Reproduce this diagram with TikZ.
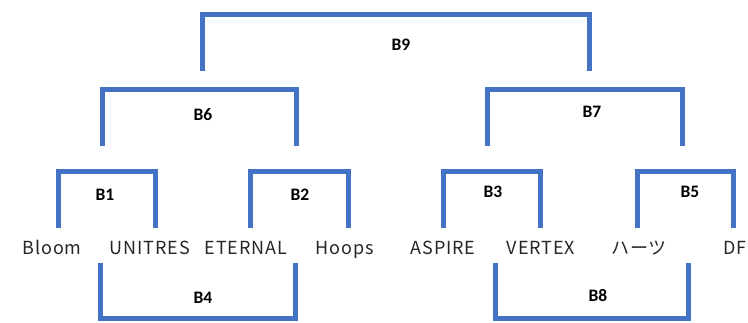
\documentclass[tikz,border=0pt]{standalone}
\usepackage{fontspec}
\setmainfont{Noto Sans CJK JP}
\newfontfamily\labelfont{Carlito}
\usetikzlibrary{positioning, calc}
\definecolor{barblue}{HTML}{4472C4}
\definecolor{namegray}{HTML}{262626}
\tikzset{
  bar/.style={draw=barblue, line width=5pt},
  team/.style={anchor=base, inner sep=0pt, text=namegray, font=\fontsize{18}{20}\selectfont\addfontfeatures{LetterSpace=5}},
  blabel/.style={inner sep=0pt, font=\labelfont\bfseries\fontsize{17.5}{20}\selectfont}
}
\begin{document}
\begin{tikzpicture}[x=1pt, y=-1pt]
\useasboundingbox (0,0) rectangle (748,323);
% teams
\node[team] (bloom) at (52,255) {Bloom};
\node[team] (unitres) at (150,255) {UNITRES};
\node[team] (eternal) at (246,255) {ETERNAL};
\node[team] (hoops) at (345,255) {Hoops};
\node[team] (aspire) at (443,255) {ASPIRE};
\node[team] (vertex) at (541,255) {VERTEX};
\node[team] (hearts) at (639,255) {ハーツ};
\node[team, anchor=base west] (df) at (723,255) {DF};
% leg ends
\coordinate (b1a) at (58,228);  \coordinate (b1b) at (155,228);
\coordinate (b2a) at (250,228); \coordinate (b2b) at (348,228);
\coordinate (b3a) at (443,228); \coordinate (b3b) at (540,228);
\coordinate (b5a) at (637,228); \coordinate (b5b) at (733,228);
\coordinate (b6a) at (102,146); \coordinate (b6b) at (296,146);
\coordinate (b7a) at (487,146); \coordinate (b7b) at (682,146);
\coordinate (b9a) at (202,71);  \coordinate (b9b) at (589,71);
\coordinate (b4a) at (100,263); \coordinate (b4b) at (295,263);
\coordinate (b8a) at (495,263); \coordinate (b8b) at (688,263);
% upper brackets
\draw[bar] (b1a) -- ++(0,-56) -| (b1b);
\draw[bar] (b2a) -- ++(0,-56) -| (b2b);
\draw[bar] (b3a) -- ++(0,-56) -| (b3b);
\draw[bar] (b5a) -- ++(0,-56) -| (b5b);
\draw[bar] (b6a) -- ++(0,-56) -| (b6b);
\draw[bar] (b7a) -- ++(0,-56) -| (b7b);
\draw[bar] (b9a) -- ++(0,-56) -| (b9b);
% lower brackets
\draw[bar] (b4a) -- ++(0,56) -| (b4b);
\draw[bar] (b8a) -- ++(0,56) -| (b8b);
% bracket labels
\node[blabel] (B1) at (105,195) {B1};
\node[blabel] (B2) at (300,195) {B2};
\node[blabel] (B3) at (493,192) {B3};
\node[blabel] (B5) at (690,192) {B5};
\node[blabel] (B6) at (203,115) {B6};
\node[blabel] (B7) at (592,112) {B7};
\node[blabel] (B9) at (401,45) {B9};
\node[blabel] (B4) at (203,298) {B4};
\node[blabel] (B8) at (598,296) {B8};
\end{tikzpicture}
\end{document}
